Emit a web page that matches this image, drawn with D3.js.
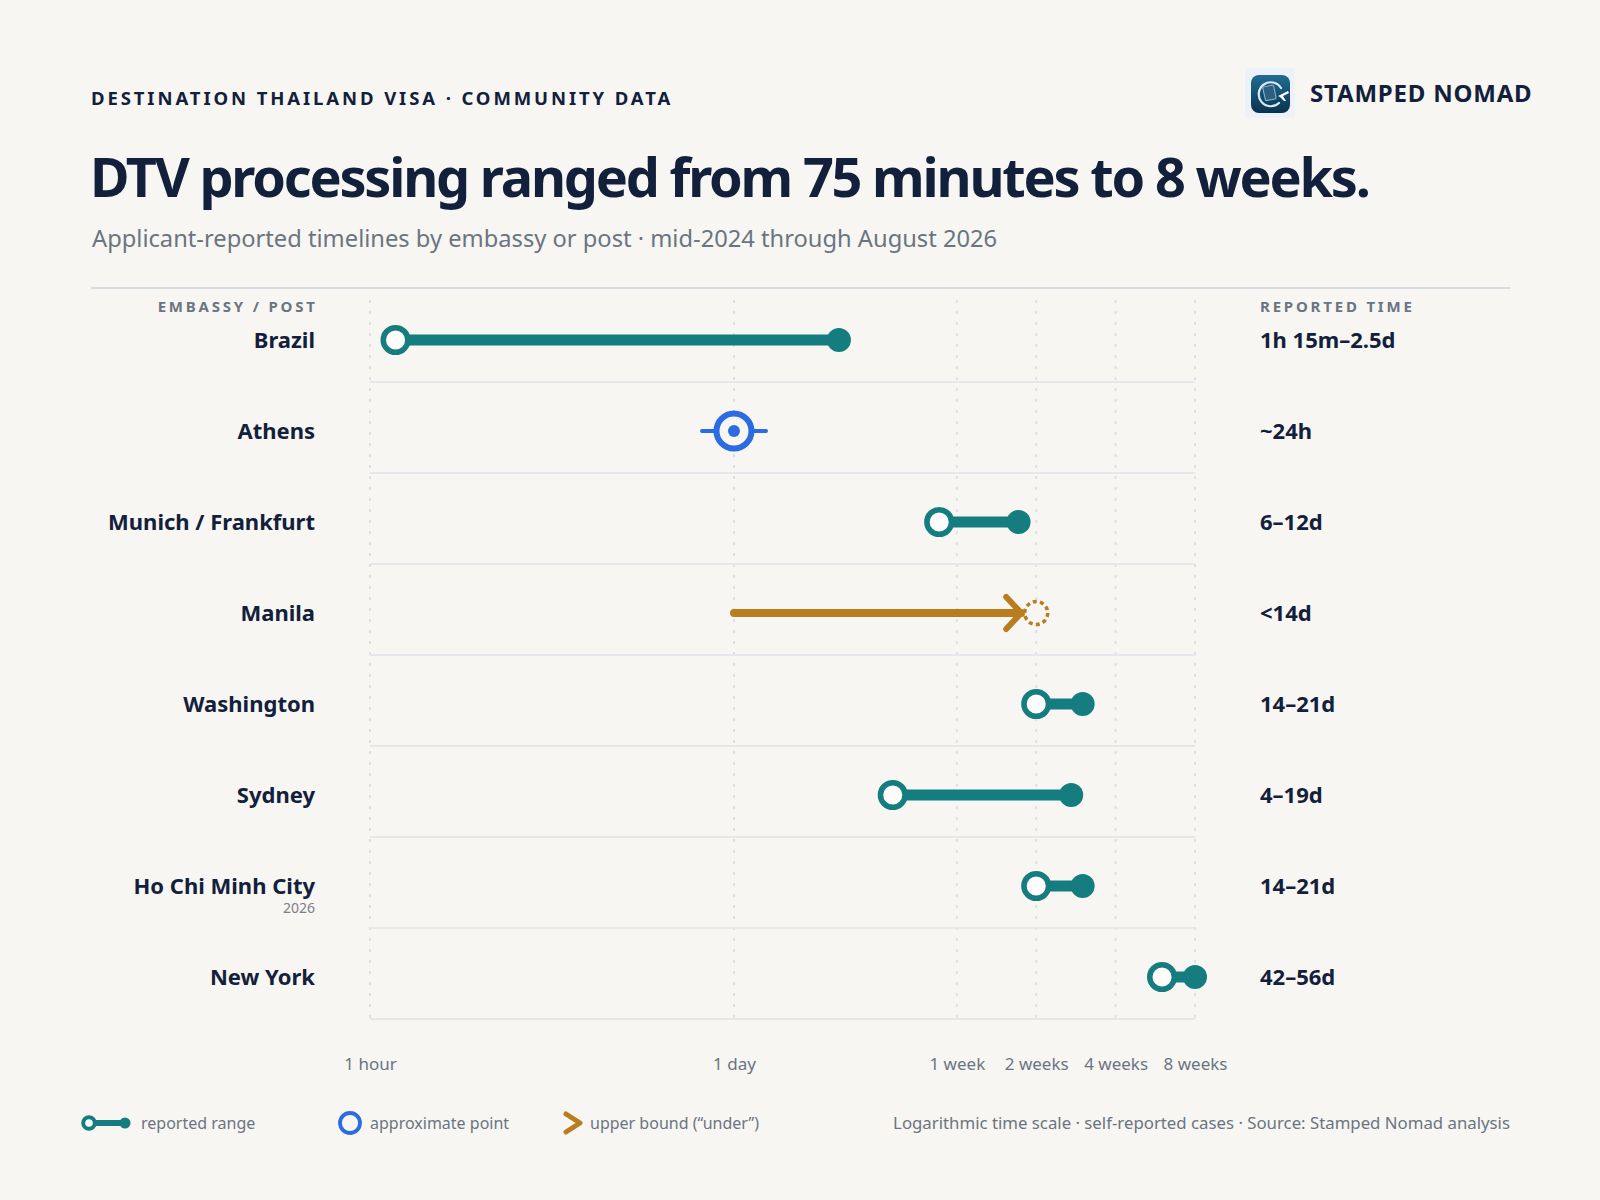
<!DOCTYPE html>
<meta charset="utf-8">

<script src="https://d3js.org/d3.v7.min.js"></script>

<style type="text/css">

body {
  margin: 0;
  background: #f7f6f2;
}

svg {
  display: block;
  font-family: "Noto Sans", "Open Sans", sans-serif;
}

.kicker {
  font-size: 18.5px;
  font-weight: 700;
  letter-spacing: 2.9px;
  fill: #13203b;
}

.title {
  font-size: 54px;
  font-weight: 700;
  fill: #13203b;
  letter-spacing: -2.2px;
}

.subtitle {
  font-size: 23.7px;
  fill: #6b7482;
}

.colHead {
  font-size: 15px;
  font-weight: 700;
  letter-spacing: 2.8px;
  fill: #6b7482;
}

.rowLabel {
  font-size: 22px;
  font-weight: 700;
  fill: #13203b;
}

.subLabel {
  font-size: 14px;
  fill: #7a818c;
}

.valueLabel {
  font-size: 22px;
  font-weight: 700;
  fill: #13203b;
}

.grid line {
  stroke: #dde0e6;
  stroke-width: 2;
  stroke-dasharray: 3 8;
}

.rowLine {
  stroke: #e5e7eb;
  stroke-width: 2;
}

.axis text {
  font-size: 17px;
  fill: #6b7482;
}

.axis path, .axis line {
  display: none;
}

.legendText {
  font-size: 16px;
  fill: #6b7482;
}

.footText {
  font-size: 16.8px;
  fill: #6b7482;
}

</style>

<body>

</body>

<script>

  // DATA
  const posts = ["Brazil", "Athens", "Munich / Frankfurt", "Manila", "Washington", "Sydney", "Ho Chi Minh City", "New York"];
  const subLabels = ["", "", "", "", "", "", "2026", ""];
  const kinds = ["range", "approx", "range", "under", "range", "range", "range", "range"];
  // hours
  const lowHours = [1.25, 24, 144, 24, 336, 96, 336, 1008];
  const highHours = [60, 24, 288, 336, 504, 456, 504, 1344];
  const valueLabels = ["1h 15m–2.5d", "~24h", "6–12d", "<14d", "14–21d", "4–19d", "14–21d", "42–56d"];

  const tickHours = [1, 24, 168, 336, 672, 1344];
  const tickLabels = ["1 hour", "1 day", "1 week", "2 weeks", "4 weeks", "8 weeks"];

  const rows = posts.map((p, i) => ({
    post: p, sub: subLabels[i], kind: kinds[i],
    low: lowHours[i], high: highHours[i], label: valueLabels[i]
  }));

  const outerWidth = 1600;
  const outerHeight = 1200;
  const left = 91;
  const right = 1510;
  const teal = "#157c80";
  const blue = "#2d6be0";
  const gold = "#b97d20";
  const bg = "#f7f6f2";

  const SVG = d3.select("body").append("svg")
    .attr("width", outerWidth)
    .attr("height", outerHeight);

  SVG.append("rect")
    .attr("width", outerWidth)
    .attr("height", outerHeight)
    .attr("fill", bg);

  // HEADER
  SVG.append("text")
    .attr("class", "kicker")
    .attr("x", left)
    .attr("y", 105)
    .text("DESTINATION THAILAND VISA · COMMUNITY DATA");

  SVG.append("text")
    .attr("class", "title")
    .attr("x", left - 1)
    .attr("y", 197)
    .text("DTV processing ranged from 75 minutes to 8 weeks.");

  SVG.append("text")
    .attr("class", "subtitle")
    .attr("x", left + 1)
    .attr("y", 247)
    .text("Applicant-reported timelines by embassy or post · mid-2024 through August 2026");

  // BRAND / LOGO
  const logo = SVG.append("g")
    .attr("transform", "translate(1245,68)");

  const grad = SVG.append("defs").append("linearGradient")
    .attr("id", "logoGrad")
    .attr("x1", 0).attr("y1", 0).attr("x2", 0).attr("y2", 1);
  grad.append("stop").attr("offset", "0%").attr("stop-color", "#1f6e93");
  grad.append("stop").attr("offset", "100%").attr("stop-color", "#0a3250");

  logo.append("rect")
    .attr("width", 50).attr("height", 50)
    .attr("rx", 3)
    .attr("fill", "#edf2f9");
  logo.append("rect")
    .attr("x", 6).attr("y", 7)
    .attr("width", 39).attr("height", 38)
    .attr("rx", 8)
    .attr("fill", "url(#logoGrad)");
  logo.append("rect")
    .attr("x", 19).attr("y", 18)
    .attr("width", 11).attr("height", 14)
    .attr("rx", 1.5)
    .attr("fill", "#2e5f80")
    .attr("stroke", "#8fb7cf")
    .attr("stroke-width", 1)
    .attr("transform", "rotate(-12,24,25)");
  logo.append("path")
    .attr("d", "M36,20 A12,12 0 1 0 34,35")
    .attr("fill", "none")
    .attr("stroke", "#dbe9f2")
    .attr("stroke-width", 2.2)
    .attr("stroke-linecap", "round");
  logo.append("path")
    .attr("d", "M33,28 L43,23 L44,25 L38,28 L41,33 L39,33 L35,29 Z")
    .attr("fill", "#ffffff");

  SVG.append("text")
    .attr("x", 1310)
    .attr("y", 102)
    .attr("font-size", 24)
    .attr("font-weight", 700)
    .attr("letter-spacing", 0.8)
    .attr("fill", "#13203b")
    .text("STAMPED NOMAD");

  // RULE
  SVG.append("line")
    .attr("x1", left).attr("x2", right)
    .attr("y1", 288).attr("y2", 288)
    .attr("stroke", "#d8dce2")
    .attr("stroke-width", 2);

  // SCALES
  const xScale = d3.scaleLog()
    .domain([1, 1344])
    .range([370, 1195]);

  const yScale = d3.scaleBand()
    .domain(posts)
    .range([291, 1019]);

  const markY = (d) => yScale(d) + 49;

  // COLUMN HEADS
  SVG.append("text")
    .attr("class", "colHead")
    .attr("x", 315 + 2.8)
    .attr("y", 312)
    .attr("text-anchor", "end")
    .text("EMBASSY / POST");

  SVG.append("text")
    .attr("class", "colHead")
    .attr("x", 1260)
    .attr("y", 312)
    .text("REPORTED TIME");

  // GRID
  SVG.append("g")
    .attr("class", "grid")
    .selectAll("line")
    .data(tickHours).enter().append("line")
    .attr("x1", (d) => xScale(d))
    .attr("x2", (d) => xScale(d))
    .attr("y1", 300)
    .attr("y2", 1018);

  SVG.selectAll(".rowLine")
    .data(posts).enter().append("line")
    .attr("class", "rowLine")
    .attr("x1", xScale.range()[0])
    .attr("x2", xScale.range()[1])
    .attr("y1", (d) => yScale(d) + yScale.bandwidth())
    .attr("y2", (d) => yScale(d) + yScale.bandwidth());

  // AXIS
  const xAxis = d3.axisBottom(xScale)
    .tickValues(tickHours)
    .tickFormat((d, i) => tickLabels[i])
    .tickSize(0)
    .tickPadding(0);

  SVG.append("g")
    .attr("class", "axis")
    .attr("transform", "translate(0,1058)")
    .call(xAxis)
    .attr("font-family", null)
    .attr("font-size", null);

  // ROW LABELS
  const rowGroup = SVG.selectAll(".rowGroup")
    .data(rows).enter().append("g")
    .attr("class", "rowGroup")
    .attr("transform", (d) => "translate(0," + markY(d.post) + ")");

  rowGroup.append("text")
    .attr("class", "rowLabel")
    .attr("x", 315)
    .attr("y", 7.5)
    .attr("text-anchor", "end")
    .text((d) => d.post);

  rowGroup.filter((d) => d.sub).append("text")
    .attr("class", "subLabel")
    .attr("x", 315)
    .attr("y", 27)
    .attr("text-anchor", "end")
    .text((d) => d.sub);

  rowGroup.append("text")
    .attr("class", "valueLabel")
    .attr("x", 1260)
    .attr("y", 7.5)
    .text((d) => d.label);

  // RANGE MARKS
  const ranges = rowGroup.filter((d) => d.kind === "range");

  ranges.append("line")
    .attr("x1", (d) => xScale(d.low))
    .attr("x2", (d) => xScale(d.high))
    .attr("stroke", teal)
    .attr("stroke-width", 11);

  ranges.append("circle")
    .attr("cx", (d) => xScale(d.high))
    .attr("r", 12)
    .attr("fill", teal);

  ranges.append("circle")
    .attr("cx", (d) => xScale(d.low))
    .attr("r", 12.3)
    .attr("fill", "#fdfdfb")
    .attr("stroke", teal)
    .attr("stroke-width", 5.5);

  // APPROXIMATE POINT
  const approx = rowGroup.filter((d) => d.kind === "approx");

  approx.append("line")
    .attr("x1", (d) => xScale(d.high) - 32)
    .attr("x2", (d) => xScale(d.high) + 32)
    .attr("stroke", blue)
    .attr("stroke-width", 4)
    .attr("stroke-linecap", "round");

  approx.append("circle")
    .attr("cx", (d) => xScale(d.high))
    .attr("r", 17.5)
    .attr("fill", bg)
    .attr("stroke", blue)
    .attr("stroke-width", 6);

  approx.append("circle")
    .attr("cx", (d) => xScale(d.high))
    .attr("r", 6)
    .attr("fill", blue);

  // UPPER BOUND
  const under = rowGroup.filter((d) => d.kind === "under");

  under.append("line")
    .attr("x1", (d) => xScale(d.low))
    .attr("x2", (d) => xScale(d.high) - 15)
    .attr("stroke", gold)
    .attr("stroke-width", 8)
    .attr("stroke-linecap", "round");

  under.append("circle")
    .attr("cx", (d) => xScale(d.high))
    .attr("r", 11.5)
    .attr("fill", bg)
    .attr("stroke", gold)
    .attr("stroke-width", 3.5)
    .attr("stroke-dasharray", "4 3.2");

  under.append("path")
    .attr("d", (d) => {
      const t = xScale(d.high) - 15;
      return "M" + (t - 15) + ",-16 L" + t + ",0 L" + (t - 15) + ",16";
    })
    .attr("fill", "none")
    .attr("stroke", gold)
    .attr("stroke-width", 6)
    .attr("stroke-linecap", "round")
    .attr("stroke-linejoin", "round");

  // LEGEND
  const legend = SVG.append("g")
    .attr("transform", "translate(0,1123)");

  legend.append("line")
    .attr("x1", 89).attr("x2", 125)
    .attr("stroke", teal)
    .attr("stroke-width", 6);
  legend.append("circle")
    .attr("cx", 125).attr("r", 5.5)
    .attr("fill", teal);
  legend.append("circle")
    .attr("cx", 89).attr("r", 5.8)
    .attr("fill", "#fdfdfb")
    .attr("stroke", teal)
    .attr("stroke-width", 4);
  legend.append("text")
    .attr("class", "legendText")
    .attr("x", 141).attr("y", 6)
    .text("reported range");

  legend.append("circle")
    .attr("cx", 350).attr("r", 10)
    .attr("fill", "none")
    .attr("stroke", blue)
    .attr("stroke-width", 3.8);
  legend.append("text")
    .attr("class", "legendText")
    .attr("x", 370).attr("y", 6)
    .text("approximate point");

  legend.append("path")
    .attr("d", "M566,-9 L580,0 L566,9")
    .attr("fill", "none")
    .attr("stroke", gold)
    .attr("stroke-width", 5)
    .attr("stroke-linecap", "round")
    .attr("stroke-linejoin", "round");
  legend.append("text")
    .attr("class", "legendText")
    .attr("x", 590).attr("y", 6)
    .text("upper bound (“under”)");

  legend.append("text")
    .attr("class", "footText")
    .attr("x", right).attr("y", 6)
    .attr("text-anchor", "end")
    .text("Logarithmic time scale · self-reported cases · Source: Stamped Nomad analysis");

</script>
